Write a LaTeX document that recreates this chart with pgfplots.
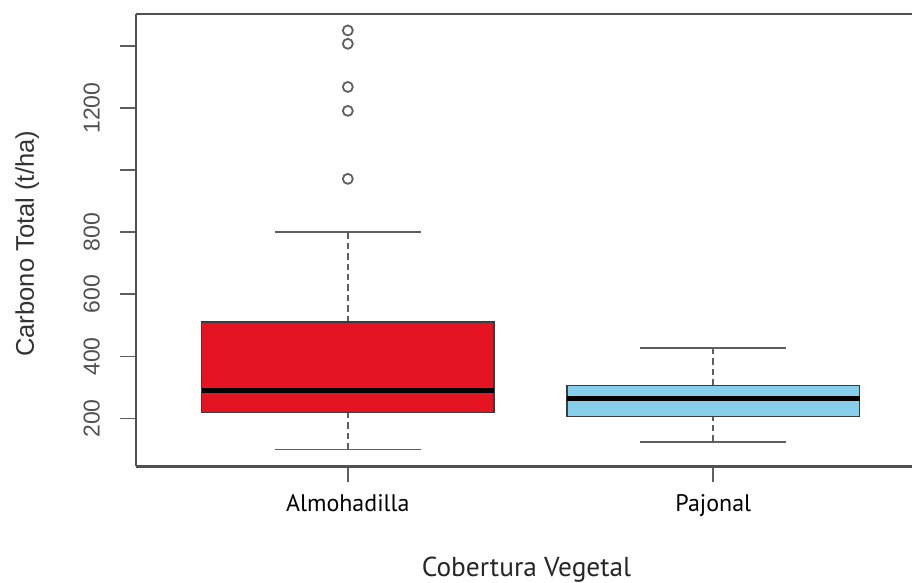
\documentclass[border=0pt]{standalone}
\usepackage{fontspec}
\setmainfont{Liberation Sans}
\newfontfamily\ptsans{PT Sans}
\usepackage{pgfplots}
\pgfplotsset{compat=1.18}
\definecolor{boxred}{RGB}{228,20,34}
\definecolor{boxblue}{RGB}{135,206,235}
\definecolor{framegray}{RGB}{80,80,80}
\definecolor{linegray}{RGB}{95,95,95}
\definecolor{edgegray}{RGB}{60,60,60}
\begin{document}
\begin{tikzpicture}
\path (-68pt,-58pt) rectangle (388.5pt,233.5pt);
\begin{axis}[
  at={(0pt,0pt)}, anchor=south west,
  scale only axis, width=388.5pt, height=226.5pt,
  xmin=0.42, xmax=2.543, ymin=46, ymax=1503,
  axis x line*=box, axis y line*=left,
  xtick pos=bottom, ytick pos=left,
  axis line style={framegray, line width=1.2pt},
  xtick={1,2}, xticklabels={Almohadilla,Pajonal},
  ytick={200,400,600,800,1000,1200,1400},
  yticklabels={200,400,600,800,{},1200,{}},
  tick align=outside, major tick length=8pt,
  tick style={linegray, line width=0.9pt},
  /pgf/number format/assume math mode=true,
  yticklabel style={rotate=90, anchor=south, inner sep=0pt, text=framegray,
     font=\fontsize{11.5}{14}\selectfont},
  yticklabel shift=9.8pt,
  xticklabel style={anchor=base, inner sep=0pt, text=black,
     font=\ptsans\fontsize{12}{14}\selectfont},
  xticklabel shift=14.5pt,
  xlabel={Cobertura Vegetal},
  xlabel style={at={(axis description cs:0.5035,-0.2428)}, anchor=base, inner sep=0pt,
     font=\ptsans\fontsize{13.7}{16}\selectfont, text=black!85},
  ylabel={Carbono Total (t/ha)},
  ylabel style={at={(axis description cs:-0.1313,0.492)}, anchor=base, rotate=0, inner sep=0pt,
     font=\fontsize{12.8}{15}\selectfont, text=black!80},
]
% Almohadilla (x = 1): whiskers (dashed), caps, box, median
\addplot[linegray, line width=1pt, dash pattern=on 3.2pt off 2pt] coordinates {(1,511) (1,800.8)};
\addplot[linegray, line width=1pt, dash pattern=on 3.2pt off 2pt] coordinates {(1,100.4) (1,220)};
\addplot[linegray, line width=0.9pt] coordinates {(0.8,800.8) (1.2,800.8)};
\addplot[linegray, line width=0.9pt] coordinates {(0.8,100.4) (1.2,100.4)};
\addplot[draw=edgegray, fill=boxred, line width=0.7pt] coordinates {(0.6,220) (1.4,220) (1.4,511) (0.6,511)} -- cycle;
\addplot[black, line width=2.4pt] coordinates {(0.6,290.7) (1.4,290.7)};
% Pajonal (x = 2)
\addplot[linegray, line width=1pt, dash pattern=on 3.2pt off 2pt] coordinates {(2,306.7) (2,426.7)};
\addplot[linegray, line width=1pt, dash pattern=on 3.2pt off 2pt] coordinates {(2,125) (2,207)};
\addplot[linegray, line width=0.9pt] coordinates {(1.8,426.7) (2.2,426.7)};
\addplot[linegray, line width=0.9pt] coordinates {(1.8,125) (2.2,125)};
\addplot[draw=edgegray, fill=boxblue, line width=0.7pt] coordinates {(1.6,207) (2.4,207) (2.4,306.7) (1.6,306.7)} -- cycle;
\addplot[black, line width=2.4pt] coordinates {(1.6,264) (2.4,264)};
% outliers
\addplot[only marks, mark=o, mark size=2.5pt, linegray, mark options={line width=0.9pt}]
  coordinates {(1,972) (1,1191) (1,1268) (1,1407) (1,1450)};
\end{axis}
\end{tikzpicture}
\end{document}
